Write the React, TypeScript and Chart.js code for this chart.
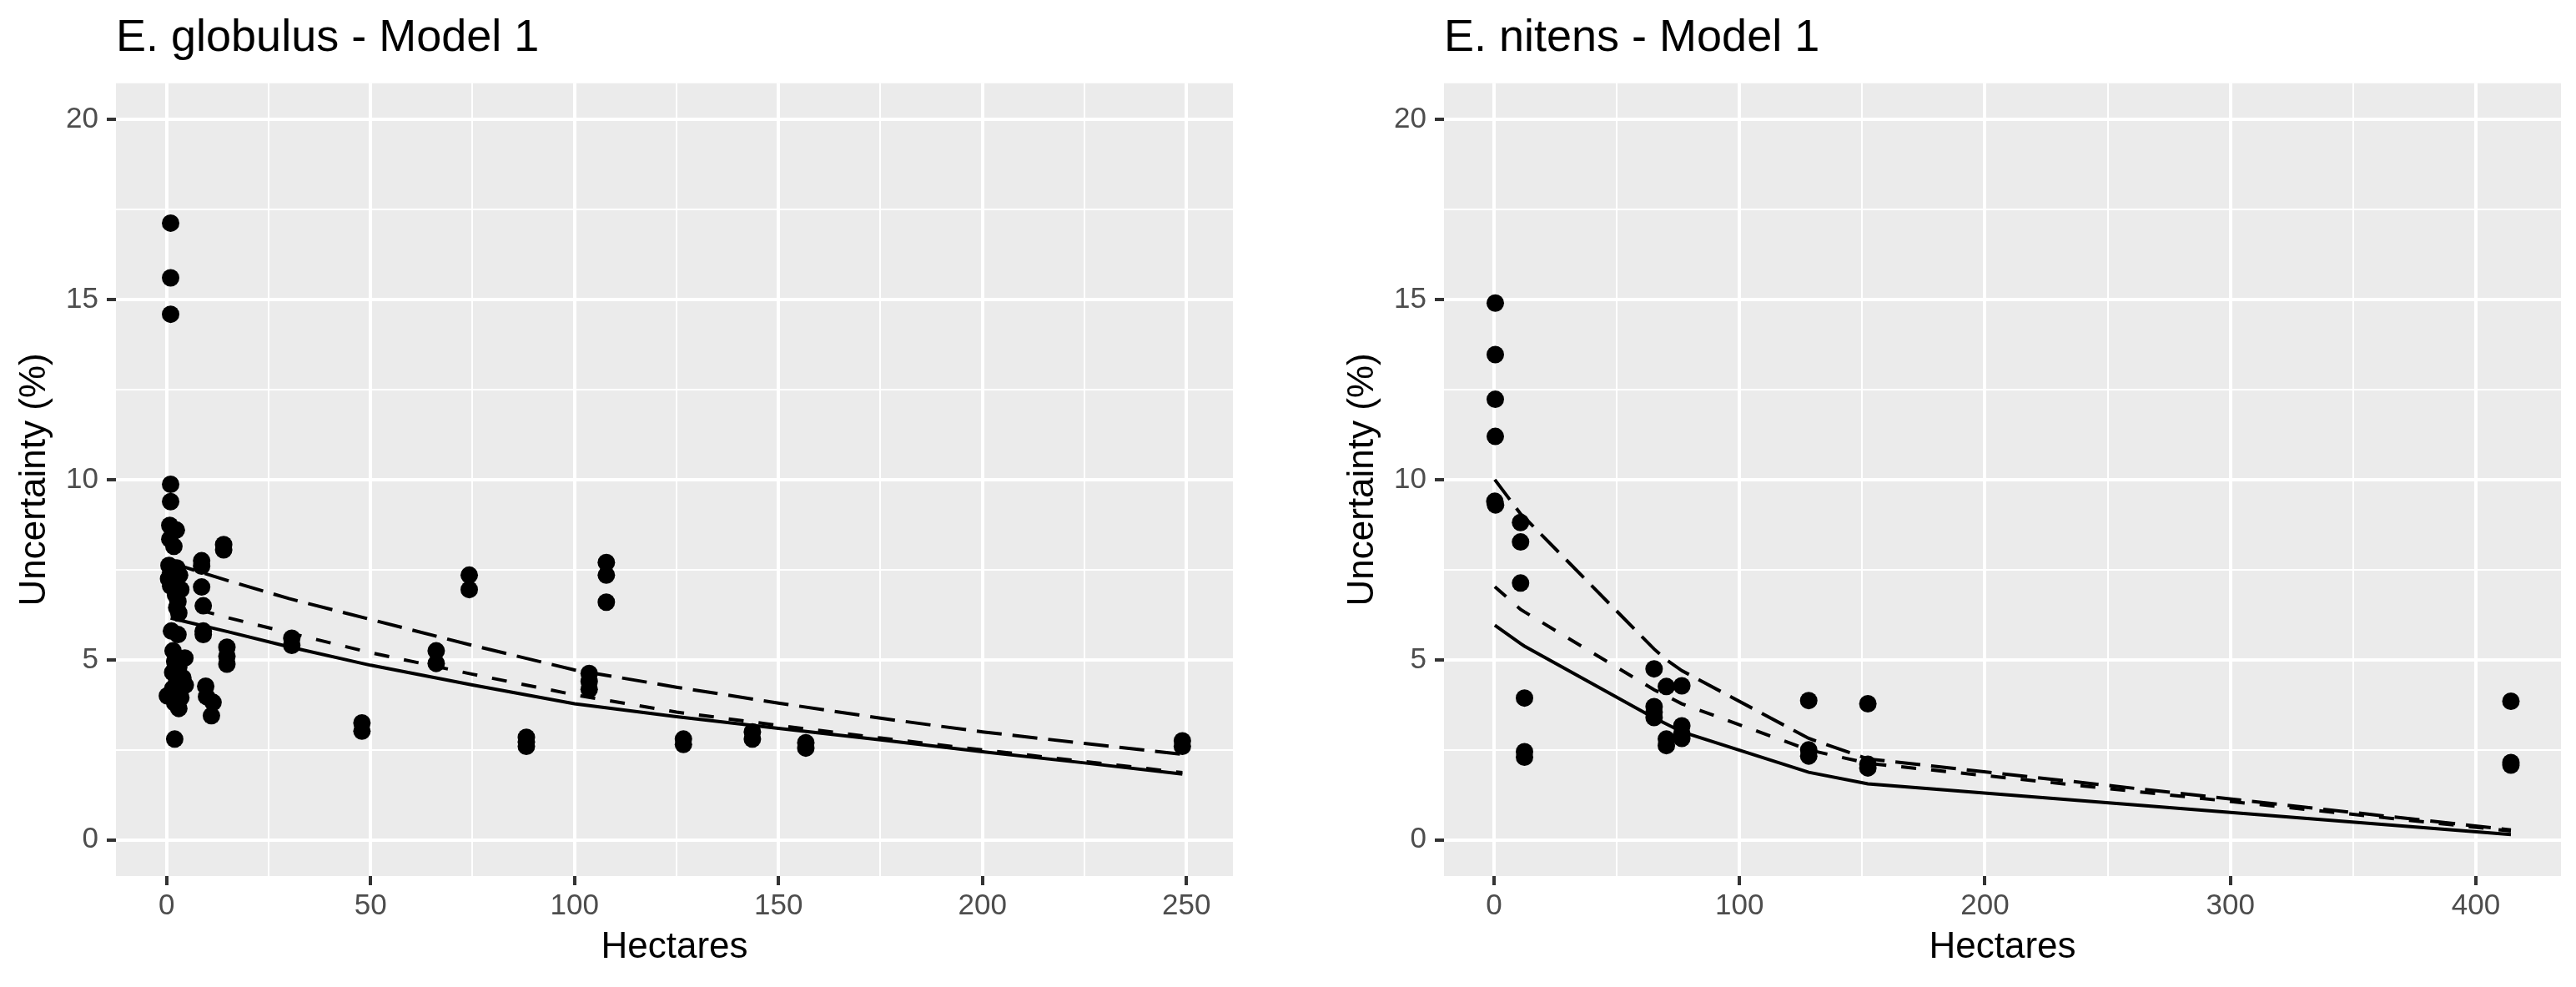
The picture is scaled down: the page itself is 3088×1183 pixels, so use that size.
import React, { useEffect, useRef } from 'react';
import { Chart, registerables } from 'chart.js';

Chart.register(...registerables);

const FONT = '"Liberation Sans", Arial, Helvetica, sans-serif';

// ---------- E. globulus - Model 1 ----------
const globulusHectares = [
  1.0, 1.0, 1.0, 1.0, 1.0, 0.8, 2.4, 0.8, 1.8, 0.6, 2.5, 1.0, 3.2, 0.5, 2.0, 1.0, 3.5, 2.2, 2.8, 2.5, 3.0,
  1.2, 2.8, 1.6, 4.5, 2.0, 3.0, 1.5, 4.0, 2.5, 4.6, 1.5, 0.2, 3.5, 2.0, 3.0, 2.0,
  8.6, 8.6, 8.6, 9.0, 9.0, 9.0, 9.6, 9.8, 11.4, 11.0,
  14.0, 14.0, 14.8, 14.8, 14.8,
  30.7, 30.7, 47.9, 47.9, 66.1, 66.1, 74.2, 74.2, 88.2, 88.2, 88.2,
  103.6, 103.6, 103.6, 107.8, 107.8, 107.8, 126.7, 126.7, 143.6, 143.6, 156.7, 156.7, 249, 249,
];
const globulusUncertainty = [
  17.12, 15.6, 14.59, 9.87, 9.39, 8.73, 8.6, 8.35, 8.15, 7.62, 7.55, 7.42, 7.35, 7.25, 7.15, 7.05, 6.95, 6.8, 6.62, 6.45, 6.3,
  5.8, 5.7, 5.25, 5.05, 4.95, 4.8, 4.65, 4.5, 4.4, 4.3, 4.2, 4.0, 3.95, 3.8, 3.65, 2.8,
  7.75, 7.6, 7.02, 6.5, 5.8, 5.7, 4.27, 3.98, 3.82, 3.45,
  8.2, 8.05, 5.35, 5.1, 4.88,
  5.6, 5.4, 3.25, 3.02, 5.25, 4.9, 7.35, 6.95, 2.85, 2.72, 2.6,
  4.62, 4.4, 4.18, 7.7, 7.35, 6.6, 2.8, 2.65, 3.0, 2.8, 2.7, 2.55, 2.75, 2.6,
];
const globulusLineHectares = [1, 5, 15, 30, 50, 75, 100, 125, 150, 175, 200, 225, 249];
const globulusSolid = [6.16, 6.05, 5.78, 5.36, 4.85, 4.3, 3.78, 3.42, 3.1, 2.78, 2.45, 2.14, 1.83];
const globulusShortDash = [6.6, 6.48, 6.17, 5.75, 5.2, 4.6, 4.03, 3.55, 3.18, 2.83, 2.5, 2.18, 1.87];
const globulusLongDash = [7.7, 7.55, 7.2, 6.7, 6.12, 5.4, 4.72, 4.24, 3.8, 3.38, 3.0, 2.68, 2.38];
const globulusXTicks = [0, 25, 50, 75, 100, 125, 150, 175, 200, 225, 250];
const globulusXLabels = [0, 50, 100, 150, 200, 250];

// ---------- E. nitens - Model 1 ----------
const nitensHectares = [
  0.5, 0.5, 0.5, 0.5, 0.3, 0.6,
  10.8, 10.8, 10.8, 12.4, 12.4, 12.4,
  65.2, 65.2, 65.2, 65.2, 70.2, 70.2, 70.2, 76.5, 76.5, 76.5, 76.5,
  128.2, 128.2, 128.2, 152.3, 152.3, 152.3, 414.3, 414.3, 414.3,
];
const nitensUncertainty = [
  14.9, 13.47, 12.23, 11.2, 9.4, 9.3,
  8.81, 8.27, 7.13, 3.94, 2.45, 2.3,
  4.75, 3.7, 3.55, 3.4, 4.26, 2.8, 2.62, 4.28, 3.17, 2.95, 2.82,
  3.87, 2.5, 2.33, 3.78, 2.1, 2.0, 3.85, 2.15, 2.08,
];
const nitensLineHectares = [0.3, 10.8, 12.4, 65.2, 70.2, 76.5, 128.2, 152.3, 414.3];
const nitensSolid = [5.96, 5.45, 5.38, 3.39, 3.22, 3.0, 1.88, 1.56, 0.15];
const nitensShortDash = [7.03, 6.4, 6.33, 4.17, 4.0, 3.78, 2.5, 2.13, 0.25];
const nitensLongDash = [10.0, 9.05, 8.95, 5.3, 5.0, 4.7, 2.82, 2.25, 0.28];
const nitensXTicks = [0, 50, 100, 150, 200, 250, 300, 350, 400];
const nitensXLabels = [0, 100, 200, 300, 400];

// ---------- shared y axis ----------
const yTicks = [0, 2.5, 5, 7.5, 10, 12.5, 15, 17.5, 20];
const yLabels = [0, 5, 10, 15, 20];

const CANVAS_W = 1490;
const CANVAS_H = 1183;

const panelBg = {
  id: 'panelBg',
  beforeDraw(chart: any) {
    const { ctx, chartArea } = chart;
    if (!chartArea) return;
    ctx.save();
    ctx.fillStyle = '#EBEBEB';
    ctx.fillRect(chartArea.left, chartArea.top, chartArea.right - chartArea.left, chartArea.bottom - chartArea.top);
    ctx.restore();
  },
};

function zip(xs: number[], ys: number[]) {
  return xs.map((x, i) => ({ x, y: ys[i] }));
}

function buildConfig(p: any) {
  const gridFor = (major: number[]) => ({
    color: '#FFFFFF',
    lineWidth: (c: any) => (c.tick && major.includes(c.tick.value) ? 4 : 2),
    drawTicks: true,
    tickLength: 11,
    tickWidth: 4,
    tickColor: (c: any) => (c.tick && major.includes(c.tick.value) ? '#333333' : 'rgba(0,0,0,0)'),
  });
  const lineDs = (ys: number[], dash: number[]) => ({
    type: 'scatter',
    data: zip(p.lineX, ys),
    showLine: true,
    borderColor: '#000000',
    backgroundColor: '#000000',
    borderWidth: 4,
    borderDash: dash,
    borderCapStyle: 'butt',
    pointRadius: 0,
    pointHoverRadius: 0,
    tension: 0,
    fill: false,
  });
  return {
    type: 'scatter',
    data: {
      datasets: [
        lineDs(p.solid, []),
        lineDs(p.shortDash, [18, 18]),
        lineDs(p.longDash, [30, 13]),
        {
          type: 'scatter',
          data: zip(p.pointsX, p.pointsY),
          pointRadius: 10.5,
          pointHoverRadius: 10.5,
          pointBackgroundColor: '#000000',
          pointBorderWidth: 0,
          showLine: false,
        },
      ],
    },
    options: {
      animation: false,
      responsive: false,
      devicePixelRatio: 1,
      events: [],
      layout: { padding: { left: 0, right: 12, top: 0, bottom: 0 } },
      plugins: {
        legend: { display: false },
        tooltip: { enabled: false },
        title: {
          display: true,
          text: p.title,
          align: 'start',
          fullSize: false,
          color: '#000000',
          font: { family: FONT, size: 54, weight: 'normal', lineHeight: 1.2 },
          padding: { top: 14, bottom: 21 },
        },
      },
      scales: {
        x: {
          type: 'linear',
          position: 'bottom',
          min: p.xMin,
          max: p.xMax,
          afterBuildTicks: (s: any) => {
            s.ticks = p.xTicks.map((v: number) => ({ value: v }));
          },
          afterFit: (s: any) => {
            s.height = 133;
          },
          ticks: {
            autoSkip: false,
            maxRotation: 0,
            minRotation: 0,
            padding: 4,
            color: '#4D4D4D',
            font: { family: FONT, size: 35, lineHeight: 1.2 },
            callback: (v: number) => (p.xLabels.includes(v) ? String(v) : ''),
          },
          grid: gridFor(p.xLabels),
          border: { display: false },
          title: {
            display: true,
            text: 'Hectares',
            color: '#000000',
            font: { family: FONT, size: 44, lineHeight: 1.2 },
            padding: { top: 0, bottom: 21 },
          },
        },
        y: {
          type: 'linear',
          position: 'left',
          min: -1,
          max: 21,
          afterBuildTicks: (s: any) => {
            s.ticks = yTicks.map((v) => ({ value: v }));
          },
          afterFit: (s: any) => {
            s.width = 139;
          },
          ticks: {
            autoSkip: false,
            padding: 10,
            color: '#4D4D4D',
            font: { family: FONT, size: 35, lineHeight: 1.2 },
            callback: (v: number) => (yLabels.includes(v) ? String(v) : ''),
          },
          grid: gridFor(yLabels),
          border: { display: false },
          title: {
            display: true,
            text: 'Uncertainty (%)',
            color: '#000000',
            font: { family: FONT, size: 44, lineHeight: 1.2 },
            padding: { top: 15, bottom: 0 },
          },
        },
      },
    },
    plugins: [panelBg],
  };
}

const panels = [
  {
    title: 'E. globulus - Model 1',
    left: 0,
    xMin: -12.4,
    xMax: 261.4,
    xTicks: globulusXTicks,
    xLabels: globulusXLabels,
    pointsX: globulusHectares,
    pointsY: globulusUncertainty,
    lineX: globulusLineHectares,
    solid: globulusSolid,
    shortDash: globulusShortDash,
    longDash: globulusLongDash,
  },
  {
    title: 'E. nitens - Model 1',
    left: 1592,
    xMin: -20.4,
    xMax: 434.7,
    xTicks: nitensXTicks,
    xLabels: nitensXLabels,
    pointsX: nitensHectares,
    pointsY: nitensUncertainty,
    lineX: nitensLineHectares,
    solid: nitensSolid,
    shortDash: nitensShortDash,
    longDash: nitensLongDash,
  },
];

function Panel({ p }: { p: any }) {
  const ref = useRef<HTMLCanvasElement | null>(null);
  useEffect(() => {
    if (!ref.current) return;
    const chart = new Chart(ref.current, buildConfig(p) as any);
    return () => chart.destroy();
  }, [p]);
  return (
    <canvas
      ref={ref}
      width={CANVAS_W}
      height={CANVAS_H}
      style={{ position: 'absolute', left: p.left, top: 0, width: CANVAS_W, height: CANVAS_H }}
    />
  );
}

export default function App() {
  return (
    <div
      style={{
        position: 'absolute',
        left: 0,
        top: 0,
        width: 3088,
        height: 1183,
        overflow: 'hidden',
        background: '#FFFFFF',
      }}
    >
      {panels.map((p) => (
        <Panel key={p.title} p={p} />
      ))}
    </div>
  );
}
